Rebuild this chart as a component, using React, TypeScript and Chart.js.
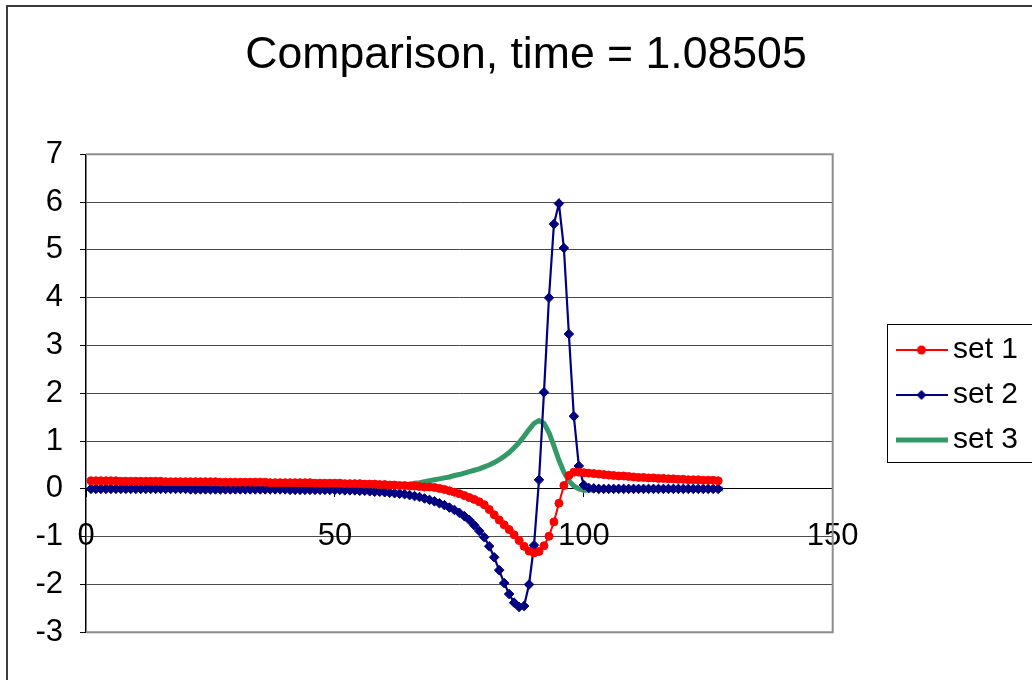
import React, { useEffect, useRef } from 'react';
import { Chart, registerables } from 'chart.js';

Chart.register(...registerables);

// ---------- data ----------
const titleText = 'Comparison, time = 1.08505';
const seriesNames = ['set 1', 'set 2', 'set 3'];
const xAxisTicks = [0, 50, 100, 150];
const yAxisTicks = [-3, -2, -1, 0, 1, 2, 3, 4, 5, 6, 7];

const xValues = [
  1, 2, 3, 4, 5, 6, 7, 8, 9, 10,
  11, 12, 13, 14, 15, 16, 17, 18, 19, 20,
  21, 22, 23, 24, 25, 26, 27, 28, 29, 30,
  31, 32, 33, 34, 35, 36, 37, 38, 39, 40,
  41, 42, 43, 44, 45, 46, 47, 48, 49, 50,
  51, 52, 53, 54, 55, 56, 57, 58, 59, 60,
  61, 62, 63, 64, 65, 66, 67, 68, 69, 70,
  71, 72, 73, 74, 75, 76, 77, 78, 79, 80,
  81, 82, 83, 84, 85, 86, 87, 88, 89, 90,
  91, 92, 93, 94, 95, 96, 97, 98, 99, 100,
  101, 102, 103, 104, 105, 106, 107, 108, 109, 110,
  111, 112, 113, 114, 115, 116, 117, 118, 119, 120,
  121, 122, 123, 124, 125, 126, 127, 128,
];

const set1Values = [
  0.17, 0.17, 0.17, 0.17, 0.17, 0.17, 0.16, 0.16, 0.16, 0.16,
  0.16, 0.16, 0.16, 0.16, 0.16, 0.15, 0.15, 0.15, 0.15, 0.15,
  0.15, 0.15, 0.15, 0.15, 0.15, 0.15, 0.14, 0.14, 0.14, 0.14,
  0.14, 0.14, 0.14, 0.14, 0.14, 0.14, 0.13, 0.13, 0.13, 0.13,
  0.13, 0.13, 0.13, 0.13, 0.13, 0.12, 0.12, 0.12, 0.12, 0.12,
  0.12, 0.11, 0.11, 0.11, 0.11, 0.10, 0.10, 0.10, 0.09, 0.09,
  0.08, 0.08, 0.07, 0.07, 0.06, 0.06, 0.05, 0.04, 0.04, 0.03,
  0.01, -0.01, -0.04, -0.07, -0.10, -0.14, -0.18, -0.22, -0.27, -0.33,
  -0.43, -0.54, -0.65, -0.75, -0.85, -0.96, -1.08, -1.20, -1.30, -1.34,
  -1.31, -1.19, -0.99, -0.69, -0.30, 0.07, 0.28, 0.35, 0.35, 0.34,
  0.33, 0.32, 0.31, 0.30, 0.29, 0.28, 0.27, 0.27, 0.26, 0.25,
  0.24, 0.24, 0.23, 0.23, 0.22, 0.22, 0.21, 0.21, 0.20, 0.20,
  0.19, 0.19, 0.19, 0.18, 0.18, 0.18, 0.17,
];

const set2Values = [
  0.00, 0.00, 0.00, 0.00, 0.00, 0.00, 0.00, 0.00, 0.00, 0.00,
  0.00, 0.00, 0.00, 0.00, 0.00, 0.00, 0.00, 0.00, 0.00, 0.00,
  -0.01, -0.01, -0.01, -0.01, -0.01, -0.01, -0.01, -0.01, -0.01, -0.01,
  -0.01, -0.01, -0.01, -0.01, -0.01, -0.01, -0.01, -0.01, -0.01, -0.01,
  -0.02, -0.02, -0.02, -0.02, -0.02, -0.02, -0.02, -0.02, -0.02, -0.02,
  -0.02, -0.03, -0.03, -0.03, -0.04, -0.04, -0.05, -0.06, -0.06, -0.07,
  -0.08, -0.09, -0.10, -0.11, -0.13, -0.15, -0.17, -0.20, -0.23, -0.26,
  -0.30, -0.34, -0.39, -0.44, -0.50, -0.57, -0.65, -0.76, -0.88, -1.01,
  -1.20, -1.43, -1.70, -1.97, -2.20, -2.38, -2.47, -2.45, -2.00, -1.18,
  0.19, 2.02, 4.00, 5.54, 5.97, 5.04, 3.24, 1.52, 0.48, 0.08,
  0.02, 0.01, 0.00, 0.00, 0.00, 0.00, 0.00, 0.00, 0.00, 0.00,
  0.00, 0.00, 0.00, 0.00, 0.00, 0.00, 0.00, 0.00, 0.00, 0.00,
  0.00, 0.00, 0.00, 0.00, 0.00, 0.00, 0.00,
];

const set3Values = [
  0.03, 0.03, 0.03, 0.03, 0.03, 0.03, 0.03, 0.03, 0.03, 0.03,
  0.03, 0.03, 0.03, 0.03, 0.03, 0.03, 0.03, 0.03, 0.03, 0.03,
  0.03, 0.03, 0.03, 0.03, 0.03, 0.03, 0.03, 0.03, 0.03, 0.03,
  0.03, 0.03, 0.03, 0.03, 0.03, 0.03, 0.03, 0.03, 0.03, 0.03,
  0.04, 0.04, 0.04, 0.04, 0.04, 0.04, 0.04, 0.04, 0.04, 0.04,
  0.04, 0.04, 0.04, 0.04, 0.04, 0.05, 0.05, 0.05, 0.05, 0.06,
  0.06, 0.07, 0.08, 0.09, 0.10, 0.12, 0.13, 0.15, 0.17, 0.19,
  0.21, 0.23, 0.25, 0.28, 0.30, 0.33, 0.36, 0.39, 0.42, 0.46,
  0.50, 0.55, 0.61, 0.68, 0.76, 0.86, 0.97, 1.10, 1.24, 1.37,
  1.43, 1.37, 1.18, 0.90, 0.60, 0.35, 0.17, 0.06, 0.00, -0.03,
  -0.03, -0.02, -0.01, 0.00, 0.00, 0.00, 0.00, 0.00, 0.00, 0.00,
  0.00, 0.00, 0.00, 0.00, 0.00, 0.00, 0.00, 0.00, 0.00, 0.00,
  0.00, 0.00, 0.00, 0.00, 0.00, 0.00, 0.00, 0.00,
];

// ---------- styles ----------
const RED = '#ff0000';
const NAVY = '#000080';
const GREEN = '#339966';
const FONT = "'Liberation Sans', Arial, Helvetica, sans-serif";

const CANVAS_W = 1052;
const CANVAS_H = 700;
const PLOT_LEFT = 86;
const PLOT_RIGHT = 832.7;
const PLOT_TOP = 154.3;
const PLOT_BOTTOM = 632.3;

const LEGEND_LEFT = 890;
const LEGEND_TOP = 318;
const LEGEND_BOTTOM = 472;

function toPoints(ys: number[]) {
  return ys.map((y, i) => ({ x: xValues[i], y }));
}

function makeLegendImage(kind: number): HTMLCanvasElement {
  const c = document.createElement('canvas');
  c.width = 52;
  c.height = 14;
  const ctx = c.getContext('2d')!;
  const cy = 7;
  if (kind === 2) {
    ctx.strokeStyle = GREEN;
    ctx.lineWidth = 5;
    ctx.beginPath();
    ctx.moveTo(0, cy);
    ctx.lineTo(52, cy);
    ctx.stroke();
    return c;
  }
  const col = kind === 0 ? RED : NAVY;
  ctx.strokeStyle = col;
  ctx.fillStyle = col;
  ctx.lineWidth = 2;
  ctx.beginPath();
  ctx.moveTo(0, cy);
  ctx.lineTo(52, cy);
  ctx.stroke();
  ctx.beginPath();
  if (kind === 0) {
    ctx.arc(26, cy, 4.5, 0, Math.PI * 2);
  } else {
    ctx.moveTo(26 - 5, cy);
    ctx.lineTo(26, cy - 5);
    ctx.lineTo(26 + 5, cy);
    ctx.lineTo(26, cy + 5);
    ctx.closePath();
  }
  ctx.fill();
  return c;
}

const decorPlugin = {
  id: 'excelDecor',
  beforeDraw(chart: any) {
    const ctx = chart.ctx;
    ctx.save();
    ctx.fillStyle = '#ffffff';
    ctx.fillRect(0, 0, chart.width, chart.height);
    ctx.strokeStyle = '#3a3a3a';
    ctx.lineWidth = 2;
    ctx.strokeRect(7, 6, chart.width + 60, chart.height + 60);
    ctx.restore();
  },
  afterLayout(chart: any) {
    const t = chart.titleBlock;
    if (t) {
      t.left = 0;
      t.right = chart.width;
      t.width = chart.width;
    }
    const lg = chart.legend;
    if (lg) {
      lg.left = LEGEND_LEFT;
      lg.right = chart.width;
      lg.width = lg.right - lg.left;
      lg.top = LEGEND_TOP;
      lg.bottom = LEGEND_BOTTOM;
      lg.height = lg.bottom - lg.top;
    }
  },
  afterDraw(chart: any) {
    const { ctx, chartArea: a } = chart;
    ctx.save();
    ctx.strokeStyle = '#8c8c8c';
    ctx.lineWidth = 2;
    ctx.beginPath();
    ctx.moveTo(a.left, a.top);
    ctx.lineTo(a.right, a.top);
    ctx.lineTo(a.right, a.bottom);
    ctx.lineTo(a.left, a.bottom);
    ctx.stroke();
    ctx.strokeStyle = '#000000';
    ctx.lineWidth = 1;
    ctx.strokeRect(887.5, 324.5, 300, 138);
    ctx.restore();
  },
};

export default function App() {
  const ref = useRef<HTMLCanvasElement>(null);

  useEffect(() => {
    const canvas = ref.current;
    if (!canvas) return;
    Chart.defaults.font.family = FONT;
    Chart.defaults.color = '#000';
    const legendImages = [0, 1, 2].map(makeLegendImage);

    const chart = new Chart(canvas, {
      type: 'scatter',
      data: {
        datasets: [
          {
            label: seriesNames[0],
            data: toPoints(set1Values),
            showLine: true,
            borderColor: RED,
            backgroundColor: RED,
            borderWidth: 2,
            pointStyle: 'circle',
            pointRadius: 4,
            pointBorderWidth: 1,
            pointBackgroundColor: RED,
            pointBorderColor: RED,
            tension: 0,
          },
          {
            label: seriesNames[1],
            data: toPoints(set2Values),
            showLine: true,
            borderColor: NAVY,
            backgroundColor: NAVY,
            borderWidth: 2.2,
            pointStyle: 'rectRot',
            pointRadius: 4.8,
            pointBorderWidth: 1,
            pointBackgroundColor: NAVY,
            pointBorderColor: NAVY,
            tension: 0,
          },
          {
            label: seriesNames[2],
            data: toPoints(set3Values),
            showLine: true,
            borderColor: GREEN,
            backgroundColor: GREEN,
            borderWidth: 5,
            pointRadius: 0,
            pointHoverRadius: 0,
            tension: 0,
          },
        ],
      },
      options: {
        animation: false,
        responsive: false,
        devicePixelRatio: 1,
        events: [],
        layout: {
          padding: {
            left: 0,
            top: 0,
            right: CANVAS_W - PLOT_RIGHT,
            bottom: CANVAS_H - PLOT_BOTTOM,
          },
        },
        plugins: {
          tooltip: { enabled: false },
          title: {
            display: true,
            text: titleText,
            color: '#000',
            font: { size: 44.6, weight: 'normal', family: FONT, lineHeight: 1.2 },
            padding: { top: 29.2, bottom: PLOT_TOP - 29.2 - 44.6 * 1.2 },
          },
          legend: {
            display: true,
            position: 'chartArea',
            align: 'center',
            labels: {
              usePointStyle: true,
              pointStyleWidth: 33,
              padding: 15,
              color: '#000',
              font: { size: 30, family: FONT },
              generateLabels: (ch: any) => {
                const base = (Chart.defaults.plugins.legend.labels as any).generateLabels(ch);
                return base.map((it: any, i: number) => ({
                  ...it,
                  pointStyle: legendImages[i],
                  lineWidth: 0,
                  fontColor: '#000',
                }));
              },
            },
          },
        },
        scales: {
          x: {
            type: 'linear',
            position: { y: 0 } as any,
            min: xAxisTicks[0],
            max: xAxisTicks[xAxisTicks.length - 1],
            afterBuildTicks: (s: any) => {
              s.ticks = xAxisTicks.map((v) => ({ value: v }));
            },
            ticks: {
              autoSkip: false,
              maxRotation: 0,
              padding: 20.5,
              color: '#000',
              font: { size: 31, family: FONT },
            },
            grid: {
              display: true,
              drawOnChartArea: false,
              drawTicks: true,
              tickLength: 8,
              color: '#000',
              tickColor: '#000',
              lineWidth: 1,
            },
            border: { display: true, color: '#000', width: 1 },
          },
          y: {
            type: 'linear',
            position: 'left',
            min: yAxisTicks[0],
            max: yAxisTicks[yAxisTicks.length - 1],
            afterBuildTicks: (s: any) => {
              s.ticks = yAxisTicks.map((v) => ({ value: v }));
            },
            afterFit: (s: any) => {
              s.width = PLOT_LEFT;
            },
            ticks: {
              autoSkip: false,
              padding: 17,
              color: '#000',
              font: { size: 31, family: FONT },
            },
            grid: {
              display: true,
              color: '#4a4a4a',
              lineWidth: 1,
              drawTicks: true,
              tickLength: 6,
              tickColor: '#000',
            },
            border: { display: true, color: '#000', width: 1.5 },
          },
        },
      },
      plugins: [decorPlugin],
    } as any);

    return () => chart.destroy();
  }, []);

  return (
    <div
      style={{
        position: 'fixed',
        left: 0,
        top: 0,
        width: 1032,
        height: 680,
        overflow: 'hidden',
        background: '#fff',
      }}
    >
      <canvas
        ref={ref}
        width={CANVAS_W}
        height={CANVAS_H}
        style={{ position: 'absolute', left: 0, top: 0, width: CANVAS_W, height: CANVAS_H }}
      />
    </div>
  );
}
